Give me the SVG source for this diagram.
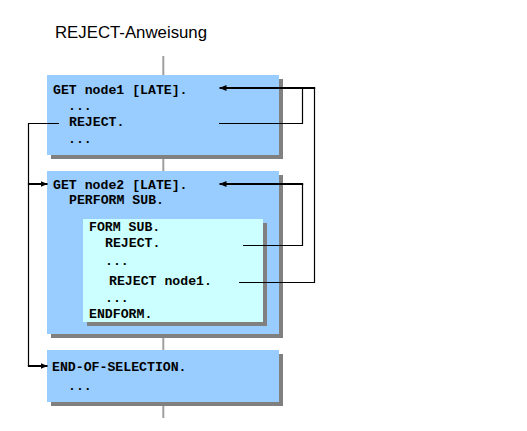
<svg xmlns="http://www.w3.org/2000/svg" width="527" height="431" viewBox="0 0 527 431">
<style>
.bg{fill:#ffffff}
.box{fill:#99ccff}
.inner{fill:#ccffff}
.shadow{fill:#808080}
.code{font-family:"Liberation Mono","Courier New",monospace;font-weight:bold;font-size:13.2px;fill:#000000}
.title{font-family:"Liberation Sans",Arial,sans-serif;font-size:16.8px;fill:#000000}
.spine{stroke:#a0a0a0;stroke-width:2;fill:none}
.thin{stroke:#000000;stroke-width:1.2;fill:none}
.thick{stroke:#000000;stroke-width:2;fill:none}
</style>
<defs>
<marker id="arr" viewBox="0 0 7 6" markerWidth="7" markerHeight="6" refX="7" refY="3" orient="auto" markerUnits="userSpaceOnUse">
<path d="M0,0 L7,3 L0,6 z" fill="#000000"/>
</marker>
</defs>
<rect class="bg" x="0" y="0" width="527" height="431"/>
<text class="title" x="55" y="38">REJECT-Anweisung</text>
<line class="spine" x1="163.3" y1="56" x2="163.3" y2="418"/>
<g id="node-get1">
<rect class="shadow" x="51" y="79" width="232" height="80"/>
<rect class="box" x="47" y="75" width="232" height="80"/>
<text class="code" x="53" y="94">GET node1 [LATE].</text>
<text class="code" x="68" y="110">...</text>
<text class="code" x="69" y="126">REJECT.</text>
<text class="code" x="68" y="143">...</text>
</g>
<g id="node-get2">
<rect class="shadow" x="51" y="175" width="232" height="163"/>
<rect class="box" x="47" y="171" width="232" height="163"/>
<text class="code" x="53" y="189">GET node2 [LATE].</text>
<text class="code" x="69" y="204">PERFORM SUB.</text>
</g>
<g id="node-form">
<rect class="shadow" x="87" y="223" width="180" height="103"/>
<rect class="inner" x="83" y="219" width="180" height="103"/>
<text class="code" x="89" y="231">FORM SUB.</text>
<text class="code" x="105" y="247">REJECT.</text>
<text class="code" x="105" y="265">...</text>
<text class="code" x="109" y="285">REJECT node1.</text>
<text class="code" x="105" y="302">...</text>
<text class="code" x="89" y="318">ENDFORM.</text>
</g>
<g id="node-eos">
<rect class="shadow" x="51" y="354" width="232" height="52"/>
<rect class="box" x="47" y="350" width="232" height="52"/>
<text class="code" x="52" y="371">END-OF-SELECTION.</text>
<text class="code" x="68" y="390">...</text>
</g>
<g id="connectors">
<path class="thin" d="M219,123.5 H302.5 V88"/>
<path class="thin" d="M239,282.5 H314.5 V88"/>
<path class="thick" d="M315.2,88 H219.5" marker-end="url(#arr)"/>
<path class="thin" d="M243,245.5 H302.5 V184"/>
<path class="thick" d="M303.2,184 H219.5" marker-end="url(#arr)"/>
<path class="thin" d="M59,123.5 H28.5 V366"/>
<path class="thick" d="M27.9,184 H47.5" marker-end="url(#arr)"/>
<path class="thick" d="M27.9,366 H47.5" marker-end="url(#arr)"/>
</g>
</svg>
